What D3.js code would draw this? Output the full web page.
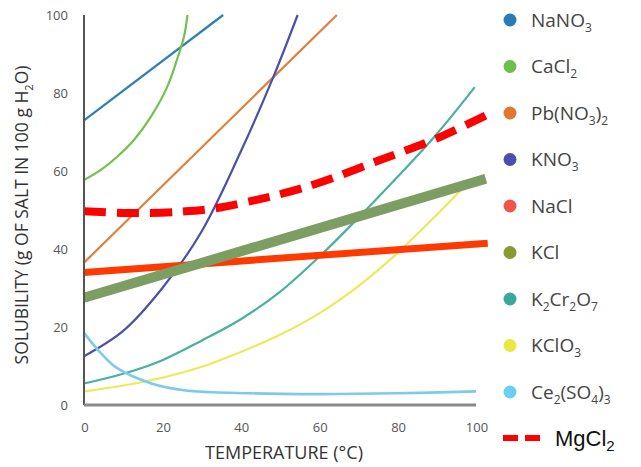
<!DOCTYPE html>
<html>
<head>
<meta charset="utf-8">
<script src="https://cdn.jsdelivr.net/npm/d3@7"></script>
<style>
  body { margin: 0; background: #fff; }
  text { font-family: "Open Sans", sans-serif; }
</style>
</head>
<body>
<svg id="chart"></svg>
<script>
// temperature (°C) -> solubility (g per 100 g H2O)
const nano3 = [[0, 73], [35.5, 100]];
const cacl2 = [[0, 57.7], [4.3, 60.3], [8.4, 63.6], [12.8, 68], [17, 73.8], [21.2, 81.5], [23.7, 88.5], [25.5, 94.4], [26.4, 100]];
const pbno3 = [[0, 36.5], [64.5, 100]];
const kno3 = [[0, 12.5], [10, 19], [20, 30], [30, 44.5], [40, 65], [48.5, 84.6], [54.5, 100]];
const nacl = [[0, 34], [103, 41.5]];
const kcl = [[0, 27.5], [102.5, 58]];
const k2cr2o7 = [[0, 5.5], [10, 8], [20, 11.5], [30, 16.5], [40, 22], [50, 29], [60, 38], [70, 48], [80, 58.5], [90, 69.5], [99.7, 81.5]];
const kclo3 = [[0, 3.5], [10, 5], [20, 7], [30, 9.8], [40, 13.6], [50, 18], [60, 23.5], [70, 30.5], [80, 39], [90, 48.8], [98, 57]];
const ce2so4 = [[0, 18.5], [4.3, 13.3], [8.4, 9.5], [17, 5.6], [25.5, 3.8], [42.6, 3], [60, 2.8], [80, 3], [100, 3.5]];
const mgcl2 = [[0, 49.7], [12.7, 49.2], [25, 49.6], [34, 50.5], [44, 52.6], [51, 54.3], [60, 57], [75.5, 62.8], [90.8, 68.7], [104, 75]];

const xTicks = [0, 20, 40, 60, 80, 100];
const yTicks = [0, 20, 40, 60, 80, 100];

const series = [
  { name: "NaNO_3", data: nano3, color: "#2f7fb0", dot: "#2a7ab8", width: 2.2 },
  { name: "CaCl_2", data: cacl2, color: "#74c04e", dot: "#6cc04a", width: 2.2 },
  { name: "Pb(NO_3)_2", data: pbno3, color: "#e0803e", dot: "#e0782f", width: 2.2 },
  { name: "KNO_3", data: kno3, color: "#4b50a8", dot: "#4a4fb0", width: 2.2 },
  { name: "NaCl", data: nacl, color: "#ff3a00", dot: "#f0564a", width: 7 },
  { name: "KCl", data: kcl, color: "#7d9e62", dot: "#8a9a30", width: 10 },
  { name: "K_2Cr_2O_7", data: k2cr2o7, color: "#4ab0a0", dot: "#3aa89a", width: 2.2 },
  { name: "KClO_3", data: kclo3, color: "#eaea5a", dot: "#e8e840", width: 2.2 },
  { name: "Ce_2(SO_4)_3", data: ce2so4, color: "#7ccbeb", dot: "#6ad0f0", width: 2.6 },
];

const size = { width: 641, height: 467 };
const margin = { top: 15, left: 84, right: 165, bottom: 62 };

const svg = d3.select("#chart").attr("width", size.width).attr("height", size.height);

const x = d3.scaleLinear().domain([0, 100]).range([margin.left, size.width - margin.right]);
const y = d3.scaleLinear().domain([0, 100]).range([size.height - margin.bottom, margin.top]);

// tick labels
svg.append("g").selectAll("text").data(yTicks).join("text")
  .attr("x", margin.left - 16).attr("y", (d) => y(d) + 4.5)
  .attr("text-anchor", "end").attr("fill", "#555").style("font-size", "13px")
  .text((d) => d);

svg.append("g").selectAll("text").data(xTicks).join("text")
  .attr("x", (d) => x(d) + 1).attr("y", y(0) + 27)
  .attr("text-anchor", "middle").attr("fill", "#555").style("font-size", "13px")
  .text((d) => d);

const line = d3.line().x((d) => x(d[0])).y((d) => y(d[1])).curve(d3.curveCatmullRom.alpha(0.5));

const plot = svg.append("g");
// thin curves first, thick ones on top
const order = ["NaNO_3", "CaCl_2", "Pb(NO_3)_2", "KNO_3", "K_2Cr_2O_7", "KClO_3", "Ce_2(SO_4)_3", "NaCl", "KCl"];
order.forEach((n) => {
  const s = series.find((d) => d.name === n);
  plot.append("path").datum(s.data).attr("d", line)
    .attr("fill", "none").attr("stroke", s.color)
    .attr("stroke-width", s.width).attr("stroke-linecap", "butt");
});

plot.append("path").datum(mgcl2).attr("d", line)
  .attr("fill", "none").attr("stroke", "#ff0000")
  .attr("stroke-width", 8).attr("stroke-dasharray", "22,11");

// axes
svg.append("line")
  .attr("x1", margin.left).attr("x2", margin.left)
  .attr("y1", y(100)).attr("y2", y(0))
  .attr("stroke", "#555").attr("stroke-width", 2);
svg.append("line")
  .attr("x1", margin.left).attr("x2", x(100))
  .attr("y1", y(0)).attr("y2", y(0))
  .attr("stroke", "#8a8a8a").attr("stroke-width", 3);

// text with subscripts, "_" marks the next char as subscript
const addChem = (sel, str, subSize) => {
  const parts = str.split(/(_.)/).filter((p) => p !== "");
  parts.forEach((p) => {
    if (p[0] === "_") {
      sel.append("tspan").attr("dy", 5).style("font-size", subSize).text(p[1]);
      sel.append("tspan").attr("dy", -5).text("\u200b");
    } else {
      sel.append("tspan").text(p);
    }
  });
};

// axis titles
const yTitle = svg.append("text")
  .attr("transform", `translate(28, ${(y(0) + y(100)) / 2 + 5}) rotate(-90)`)
  .attr("text-anchor", "middle").attr("fill", "#333").style("font-size", "17.5px");
addChem(yTitle, "SOLUBILITY (g OF SALT IN 100 g H_2O)", "11px");

svg.append("text")
  .attr("x", (x(0) + x(100)) / 2 + 4).attr("y", 459)
  .attr("text-anchor", "middle").attr("fill", "#333").style("font-size", "18px")
  .text("TEMPERATURE (\u00b0C)");

// legend
const legend = svg.append("g");
series.forEach((s, i) => {
  const ly = 20 + i * 46.5;
  legend.append("circle").attr("cx", 510).attr("cy", ly).attr("r", 6.5).attr("fill", s.dot);
  const t = legend.append("text").attr("x", 531).attr("y", ly + 6.5)
    .attr("fill", "#444").style("font-size", "19px");
  addChem(t, s.name, "12px");
});

legend.append("line")
  .attr("x1", 503).attr("x2", 546).attr("y1", 438).attr("y2", 438)
  .attr("stroke", "#ff0000").attr("stroke-width", 6).attr("stroke-dasharray", "15,7");
const mg = legend.append("text").attr("x", 555).attr("y", 446)
  .attr("fill", "#111").style("font-family", "Liberation Sans, sans-serif").style("font-size", "22px");
addChem(mg, "MgCl_2", "15px");
</script>
</body>
</html>
